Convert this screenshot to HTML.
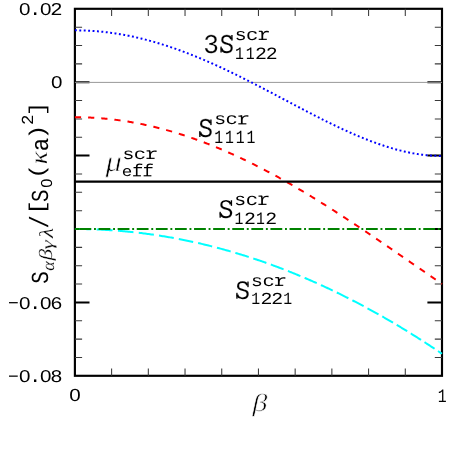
<!DOCTYPE html>
<html><head><meta charset="utf-8"><title>chart</title>
<style>html,body{margin:0;padding:0;background:#fff;}svg{display:block;}</style>
</head><body>
<svg width="458" height="451" viewBox="0 0 458 451">
<rect width="458" height="451" fill="#fff"/>
<rect x="74.9" y="8.8" width="367.10" height="367.00" fill="none" stroke="#000" stroke-width="2.15"/>
<path d="M111.61,8.8 v7.2 M111.61,375.8 v-7.2 M148.32,8.8 v7.2 M148.32,375.8 v-7.2 M185.03,8.8 v7.2 M185.03,375.8 v-7.2 M221.74,8.8 v7.2 M221.74,375.8 v-7.2 M258.45,8.8 v7.2 M258.45,375.8 v-7.2 M295.16,8.8 v7.2 M295.16,375.8 v-7.2 M331.87,8.8 v7.2 M331.87,375.8 v-7.2 M368.58,8.8 v7.2 M368.58,375.8 v-7.2 M405.29,8.8 v7.2 M405.29,375.8 v-7.2 M74.9,27.15 h7.2 M442.0,27.15 h-7.2 M74.9,45.50 h7.2 M442.0,45.50 h-7.2 M74.9,63.85 h7.2 M442.0,63.85 h-7.2 M74.9,100.55 h7.2 M442.0,100.55 h-7.2 M74.9,118.90 h7.2 M442.0,118.90 h-7.2 M74.9,137.25 h7.2 M442.0,137.25 h-7.2 M74.9,173.95 h7.2 M442.0,173.95 h-7.2 M74.9,192.30 h7.2 M442.0,192.30 h-7.2 M74.9,210.65 h7.2 M442.0,210.65 h-7.2 M74.9,247.35 h7.2 M442.0,247.35 h-7.2 M74.9,265.70 h7.2 M442.0,265.70 h-7.2 M74.9,284.05 h7.2 M442.0,284.05 h-7.2 M74.9,320.75 h7.2 M442.0,320.75 h-7.2 M74.9,339.10 h7.2 M442.0,339.10 h-7.2 M74.9,357.45 h7.2 M442.0,357.45 h-7.2" fill="none" stroke="#3a3a3a" stroke-width="1.05"/>
<path d="M74.9,82.20 h14.6 M442.0,82.20 h-14.6 M74.9,155.60 h14.6 M442.0,155.60 h-14.6 M74.9,229.00 h14.6 M442.0,229.00 h-14.6 M74.9,302.40 h14.6 M442.0,302.40 h-14.6" fill="none" stroke="#000" stroke-width="2"/>
<line x1="74.9" y1="82.40" x2="442.0" y2="82.40" stroke="#929292" stroke-width="0.95"/>
<path d="M74.90,229.00 L76.25,229.00 L77.61,229.01 L78.96,229.02 L80.31,229.03 L81.67,229.04 L83.02,229.06 L84.37,229.08 L85.73,229.11 L87.08,229.14 L88.43,229.17 L89.79,229.21 L91.14,229.24 M96.70,229.44 L98.02,229.49 L99.34,229.55 L100.66,229.61 L101.98,229.68 L103.30,229.75 L104.63,229.82 L105.95,229.89 L107.27,229.97 L108.59,230.05 L109.91,230.13 L111.23,230.22 L112.55,230.31 M117.98,230.72 L119.27,230.82 L120.56,230.93 L121.85,231.04 L123.13,231.15 L124.42,231.27 L125.71,231.39 L127.00,231.51 L128.29,231.64 L129.58,231.77 L130.87,231.90 L132.16,232.04 L133.45,232.17 M138.74,232.77 L140.00,232.92 L141.26,233.08 L142.52,233.23 L143.78,233.39 L145.04,233.55 L146.30,233.72 L147.55,233.89 L148.81,234.06 L150.07,234.23 L151.33,234.41 L152.59,234.59 L153.85,234.77 M159.01,235.55 L160.24,235.74 L161.47,235.94 L162.70,236.14 L163.93,236.34 L165.16,236.54 L166.38,236.75 L167.61,236.96 L168.84,237.17 L170.07,237.39 L171.30,237.60 L172.52,237.82 L173.75,238.05 M178.80,239.00 L180.00,239.23 L181.20,239.46 L182.39,239.70 L183.59,239.94 L184.79,240.18 L185.99,240.43 L187.19,240.67 L188.39,240.93 L189.59,241.18 L190.79,241.43 L191.98,241.69 L193.18,241.95 M198.11,243.06 L199.28,243.32 L200.45,243.59 L201.62,243.87 L202.79,244.14 L203.96,244.42 L205.13,244.70 L206.30,244.99 L207.47,245.27 L208.64,245.56 L209.81,245.85 L210.98,246.15 L212.15,246.44 M216.95,247.68 L218.10,247.99 L219.24,248.29 L220.38,248.60 L221.52,248.91 L222.66,249.22 L223.81,249.53 L224.95,249.85 L226.09,250.17 L227.23,250.49 L228.37,250.81 L229.52,251.14 L230.66,251.46 M235.35,252.84 L236.46,253.17 L237.58,253.50 L238.69,253.84 L239.81,254.18 L240.92,254.52 L242.04,254.87 L243.15,255.21 L244.27,255.56 L245.38,255.91 L246.49,256.26 L247.61,256.62 L248.72,256.98 M253.30,258.47 L254.39,258.83 L255.48,259.19 L256.57,259.56 L257.65,259.93 L258.74,260.29 L259.83,260.67 L260.92,261.04 L262.01,261.42 L263.09,261.79 L264.18,262.17 L265.27,262.56 L266.36,262.94 M270.83,264.54 L271.89,264.93 L272.95,265.32 L274.01,265.71 L275.07,266.10 L276.13,266.50 L277.20,266.89 L278.26,267.29 L279.32,267.69 L280.38,268.10 L281.44,268.50 L282.51,268.91 L283.57,269.32 M287.93,271.02 L288.97,271.43 L290.00,271.84 L291.04,272.26 L292.07,272.67 L293.11,273.09 L294.15,273.51 L295.18,273.93 L296.22,274.35 L297.26,274.78 L298.29,275.21 L299.33,275.64 L300.37,276.07 M304.62,277.86 L305.63,278.29 L306.65,278.73 L307.66,279.16 L308.67,279.60 L309.68,280.04 L310.69,280.48 L311.70,280.92 L312.71,281.37 L313.73,281.81 L314.74,282.26 L315.75,282.71 L316.76,283.16 M320.92,285.04 L321.90,285.49 L322.89,285.94 L323.88,286.40 L324.86,286.85 L325.85,287.31 L326.84,287.77 L327.83,288.23 L328.81,288.70 L329.80,289.16 L330.79,289.63 L331.78,290.10 L332.76,290.57 M336.82,292.52 L337.78,292.99 L338.75,293.46 L339.71,293.93 L340.67,294.40 L341.64,294.88 L342.60,295.35 L343.56,295.83 L344.53,296.31 L345.49,296.80 L346.45,297.28 L347.42,297.76 L348.38,298.25 M352.34,300.27 L353.28,300.76 L354.22,301.24 L355.16,301.73 L356.10,302.22 L357.04,302.71 L357.98,303.20 L358.92,303.69 L359.86,304.19 L360.80,304.69 L361.74,305.19 L362.69,305.69 L363.63,306.19 M367.49,308.27 L368.41,308.77 L369.32,309.26 L370.24,309.77 L371.16,310.27 L372.08,310.77 L373.00,311.28 L373.91,311.79 L374.83,312.30 L375.75,312.81 L376.67,313.32 L377.59,313.83 L378.50,314.35 M382.28,316.48 L383.17,316.99 L384.07,317.50 L384.96,318.02 L385.86,318.53 L386.75,319.05 L387.65,319.57 L388.55,320.09 L389.44,320.61 L390.34,321.13 L391.23,321.66 L392.13,322.18 L393.03,322.71 M396.71,324.89 L397.58,325.41 L398.46,325.93 L399.33,326.46 L400.20,326.98 L401.08,327.51 L401.95,328.04 L402.83,328.57 L403.70,329.10 L404.58,329.64 L405.45,330.17 L406.33,330.71 L407.20,331.24 M410.79,333.47 L411.65,334.00 L412.50,334.53 L413.35,335.07 L414.21,335.60 L415.06,336.14 L415.91,336.68 L416.77,337.22 L417.62,337.76 L418.47,338.30 L419.33,338.84 L420.18,339.39 L421.03,339.93 M424.54,342.19 L425.37,342.73 L426.21,343.27 L427.04,343.82 L427.87,344.36 L428.71,344.91 L429.54,345.45 L430.37,346.00 L431.21,346.55 L432.04,347.10 L432.87,347.65 L433.70,348.20 L434.54,348.76 M437.96,351.05 L438.30,351.27 L438.63,351.50 L438.97,351.73 L439.31,351.96 L439.64,352.18 L439.98,352.41 L440.32,352.64 L440.65,352.87 L440.99,353.09 L441.33,353.32 L441.66,353.55 L442.00,353.78" fill="none" stroke="#00ffff" stroke-width="2.0"/>
<path d="M74.90,30.34 L75.82,30.34 L76.74,30.35 L77.65,30.36 L78.57,30.37 L79.49,30.38 L80.41,30.40 L81.32,30.42 L82.24,30.45 L83.16,30.47 L84.08,30.50 L85.00,30.54 L85.91,30.57 L86.83,30.61 L87.75,30.66 L88.67,30.70 L89.58,30.75 L90.50,30.80 L91.42,30.86 L92.34,30.92 L93.26,30.98 L94.17,31.05 L95.09,31.12 L96.01,31.19 L96.93,31.26 L97.84,31.34 L98.76,31.42 L99.68,31.50 L100.60,31.59 L101.51,31.68 L102.43,31.78 L103.35,31.87 L104.27,31.97 L105.19,32.08 L106.10,32.18 L107.02,32.29 L107.94,32.40 L108.86,32.52 L109.77,32.64 L110.69,32.76 L111.61,32.89 L112.53,33.01 L113.45,33.15 L114.36,33.28 L115.28,33.42 L116.20,33.56 L117.12,33.70 L118.03,33.85 L118.95,34.00 L119.87,34.15 L120.79,34.31 L121.71,34.46 L122.62,34.63 L123.54,34.79 L124.46,34.96 L125.38,35.13 L126.29,35.30 L127.21,35.48 L128.13,35.66 L129.05,35.84 L129.97,36.03 L130.88,36.22 L131.80,36.41 L132.72,36.60 L133.64,36.80 L134.55,37.00 L135.47,37.20 L136.39,37.41 L137.31,37.62 L138.22,37.83 L139.14,38.05 L140.06,38.27 L140.98,38.49 L141.90,38.71 L142.81,38.94 L143.73,39.17 L144.65,39.40 L145.57,39.63 L146.48,39.87 L147.40,40.11 L148.32,40.36 L149.24,40.60 L150.16,40.85 L151.07,41.10 L151.99,41.36 L152.91,41.62 L153.83,41.88 L154.74,42.14 L155.66,42.41 L156.58,42.67 L157.50,42.95 L158.42,43.22 L159.33,43.50 L160.25,43.78 L161.17,44.06 L162.09,44.34 L163.00,44.63 L163.92,44.92 L164.84,45.21 L165.76,45.51 L166.68,45.80 L167.59,46.10 L168.51,46.41 L169.43,46.71 L170.35,47.02 L171.26,47.33 L172.18,47.64 L173.10,47.96 L174.02,48.28 L174.93,48.60 L175.85,48.92 L176.77,49.25 L177.69,49.57 L178.61,49.90 L179.52,50.24 L180.44,50.57 L181.36,50.91 L182.28,51.25 L183.19,51.59 L184.11,51.93 L185.03,52.28 L185.95,52.63 L186.87,52.98 L187.78,53.33 L188.70,53.69 L189.62,54.05 L190.54,54.41 L191.45,54.77 L192.37,55.14 L193.29,55.50 L194.21,55.87 L195.13,56.24 L196.04,56.62 L196.96,56.99 L197.88,57.37 L198.80,57.75 L199.71,58.13 L200.63,58.51 L201.55,58.90 L202.47,59.29 L203.39,59.68 L204.30,60.07 L205.22,60.46 L206.14,60.86 L207.06,61.26 L207.97,61.66 L208.89,62.06 L209.81,62.46 L210.73,62.87 L211.64,63.27 L212.56,63.68 L213.48,64.09 L214.40,64.50 L215.32,64.92 L216.23,65.33 L217.15,65.75 L218.07,66.17 L218.99,66.59 L219.90,67.02 L220.82,67.44 L221.74,67.87 L222.66,68.29 L223.58,68.72 L224.49,69.15 L225.41,69.59 L226.33,70.02 L227.25,70.46 L228.16,70.89 L229.08,71.33 L230.00,71.77 L230.92,72.21 L231.84,72.65 L232.75,73.10 L233.67,73.54 L234.59,73.99 L235.51,74.44 L236.42,74.89 L237.34,75.34 L238.26,75.79 L239.18,76.25 L240.10,76.70 L241.01,77.16 L241.93,77.61 L242.85,78.07 L243.77,78.53 L244.68,78.99 L245.60,79.45 L246.52,79.91 L247.44,80.38 L248.35,80.84 L249.27,81.31 L250.19,81.77 L251.11,82.24 L252.03,82.71 L252.94,83.18 L253.86,83.65 L254.78,84.12 L255.70,84.59 L256.61,85.06 L257.53,85.54 L258.45,86.01 L259.37,86.49 L260.29,86.96 L261.20,87.44 L262.12,87.92 L263.04,88.39 L263.96,88.87 L264.87,89.35 L265.79,89.83 L266.71,90.31 L267.63,90.79 L268.55,91.27 L269.46,91.75 L270.38,92.23 L271.30,92.72 L272.22,93.20 L273.13,93.68 L274.05,94.16 L274.97,94.65 L275.89,95.13 L276.81,95.62 L277.72,96.10 L278.64,96.58 L279.56,97.07 L280.48,97.55 L281.39,98.04 L282.31,98.52 L283.23,99.01 L284.15,99.49 L285.06,99.98 L285.98,100.46 L286.90,100.95 L287.82,101.43 L288.74,101.92 L289.65,102.40 L290.57,102.89 L291.49,103.37 L292.41,103.86 L293.32,104.34 L294.24,104.83 L295.16,105.31 L296.08,105.79 L297.00,106.27 L297.91,106.76 L298.83,107.24 L299.75,107.72 L300.67,108.20 L301.58,108.68 L302.50,109.16 L303.42,109.64 L304.34,110.12 L305.26,110.60 L306.17,111.08 L307.09,111.55 L308.01,112.03 L308.93,112.50 L309.84,112.98 L310.76,113.45 L311.68,113.92 L312.60,114.40 L313.51,114.87 L314.43,115.34 L315.35,115.81 L316.27,116.28 L317.19,116.74 L318.10,117.21 L319.02,117.67 L319.94,118.14 L320.86,118.60 L321.77,119.06 L322.69,119.52 L323.61,119.98 L324.53,120.44 L325.45,120.90 L326.36,121.35 L327.28,121.81 L328.20,122.26 L329.12,122.71 L330.03,123.16 L330.95,123.61 L331.87,124.05 L332.79,124.50 L333.71,124.94 L334.62,125.38 L335.54,125.82 L336.46,126.26 L337.38,126.70 L338.29,127.13 L339.21,127.57 L340.13,128.00 L341.05,128.43 L341.97,128.85 L342.88,129.28 L343.80,129.70 L344.72,130.12 L345.64,130.54 L346.55,130.96 L347.47,131.38 L348.39,131.79 L349.31,132.20 L350.23,132.61 L351.14,133.01 L352.06,133.42 L352.98,133.82 L353.90,134.22 L354.81,134.62 L355.73,135.01 L356.65,135.40 L357.57,135.79 L358.48,136.18 L359.40,136.56 L360.32,136.95 L361.24,137.32 L362.16,137.70 L363.07,138.07 L363.99,138.45 L364.91,138.81 L365.83,139.18 L366.74,139.54 L367.66,139.90 L368.58,140.26 L369.50,140.61 L370.42,140.96 L371.33,141.31 L372.25,141.65 L373.17,142.00 L374.09,142.33 L375.00,142.67 L375.92,143.00 L376.84,143.33 L377.76,143.66 L378.68,143.98 L379.59,144.30 L380.51,144.61 L381.43,144.92 L382.35,145.23 L383.26,145.54 L384.18,145.84 L385.10,146.13 L386.02,146.43 L386.94,146.72 L387.85,147.00 L388.77,147.29 L389.69,147.57 L390.61,147.84 L391.52,148.11 L392.44,148.38 L393.36,148.64 L394.28,148.90 L395.19,149.16 L396.11,149.41 L397.03,149.66 L397.95,149.90 L398.87,150.14 L399.78,150.37 L400.70,150.60 L401.62,150.83 L402.54,151.05 L403.45,151.27 L404.37,151.48 L405.29,151.69 L406.21,151.89 L407.13,152.09 L408.04,152.29 L408.96,152.48 L409.88,152.66 L410.80,152.84 L411.71,153.02 L412.63,153.19 L413.55,153.36 L414.47,153.52 L415.39,153.68 L416.30,153.83 L417.22,153.98 L418.14,154.12 L419.06,154.26 L419.97,154.39 L420.89,154.52 L421.81,154.64 L422.73,154.75 L423.64,154.87 L424.56,154.97 L425.48,155.07 L426.40,155.17 L427.32,155.26 L428.23,155.35 L429.15,155.43 L430.07,155.50 L430.99,155.57 L431.90,155.63 L432.82,155.69 L433.74,155.74 L434.66,155.79 L435.58,155.83 L436.49,155.87 L437.41,155.90 L438.33,155.92 L439.25,155.94 L440.16,155.96 L441.08,155.96 L442.00,155.97" fill="none" stroke="#0000ff" stroke-width="2.0" stroke-dasharray="1.9 2.52"/>
<path d="M74.90,117.25 L75.82,117.25 L76.74,117.25 L77.65,117.26 L78.57,117.27 L79.49,117.28 L80.41,117.30 L81.32,117.31 L82.24,117.33 L83.16,117.35 L84.08,117.38 L85.00,117.41 L85.91,117.44 L86.83,117.47 L87.75,117.50 L88.67,117.54 L89.58,117.58 L90.50,117.62 L91.42,117.67 L92.34,117.72 L93.26,117.77 L94.17,117.82 L95.09,117.88 L96.01,117.94 L96.93,118.00 L97.84,118.06 L98.76,118.13 L99.68,118.20 L100.60,118.27 L101.51,118.34 L102.43,118.42 L103.35,118.50 L104.27,118.58 L105.19,118.67 L106.10,118.75 L107.02,118.84 L107.94,118.93 L108.86,119.03 L109.77,119.13 L110.69,119.23 L111.61,119.33 L112.53,119.43 L113.45,119.54 L114.36,119.65 L115.28,119.76 L116.20,119.88 L117.12,120.00 L118.03,120.12 L118.95,120.24 L119.87,120.37 L120.79,120.50 L121.71,120.63 L122.62,120.76 L123.54,120.90 L124.46,121.03 L125.38,121.17 L126.29,121.32 L127.21,121.46 L128.13,121.61 L129.05,121.76 L129.97,121.92 L130.88,122.07 L131.80,122.23 L132.72,122.39 L133.64,122.56 L134.55,122.72 L135.47,122.89 L136.39,123.06 L137.31,123.24 L138.22,123.41 L139.14,123.59 L140.06,123.77 L140.98,123.96 L141.90,124.14 L142.81,124.33 L143.73,124.53 L144.65,124.72 L145.57,124.92 L146.48,125.11 L147.40,125.32 L148.32,125.52 L149.24,125.73 L150.16,125.93 L151.07,126.15 L151.99,126.36 L152.91,126.58 L153.83,126.79 L154.74,127.02 L155.66,127.24 L156.58,127.47 L157.50,127.69 L158.42,127.93 L159.33,128.16 L160.25,128.39 L161.17,128.63 L162.09,128.87 L163.00,129.12 L163.92,129.36 L164.84,129.61 L165.76,129.86 L166.68,130.11 L167.59,130.37 L168.51,130.63 L169.43,130.89 L170.35,131.15 L171.26,131.41 L172.18,131.68 L173.10,131.95 L174.02,132.22 L174.93,132.50 L175.85,132.77 L176.77,133.05 L177.69,133.33 L178.61,133.62 L179.52,133.90 L180.44,134.19 L181.36,134.48 L182.28,134.78 L183.19,135.07 L184.11,135.37 L185.03,135.67 L185.95,135.97 L186.87,136.28 L187.78,136.59 L188.70,136.89 L189.62,137.21 L190.54,137.52 L191.45,137.84 L192.37,138.16 L193.29,138.48 L194.21,138.80 L195.13,139.13 L196.04,139.45 L196.96,139.78 L197.88,140.12 L198.80,140.45 L199.71,140.79 L200.63,141.13 L201.55,141.47 L202.47,141.81 L203.39,142.16 L204.30,142.50 L205.22,142.85 L206.14,143.21 L207.06,143.56 L207.97,143.92 L208.89,144.28 L209.81,144.64 L210.73,145.00 L211.64,145.37 L212.56,145.74 L213.48,146.11 L214.40,146.48 L215.32,146.85 L216.23,147.23 L217.15,147.61 L218.07,147.99 L218.99,148.37 L219.90,148.75 L220.82,149.14 L221.74,149.53 L222.66,149.92 L223.58,150.31 L224.49,150.71 L225.41,151.11 L226.33,151.51 L227.25,151.91 L228.16,152.31 L229.08,152.72 L230.00,153.13 L230.92,153.54 L231.84,153.95 L232.75,154.36 L233.67,154.78 L234.59,155.20 L235.51,155.62 L236.42,156.04 L237.34,156.46 L238.26,156.89 L239.18,157.32 L240.10,157.75 L241.01,158.18 L241.93,158.61 L242.85,159.05 L243.77,159.48 L244.68,159.92 L245.60,160.37 L246.52,160.81 L247.44,161.25 L248.35,161.70 L249.27,162.15 L250.19,162.60 L251.11,163.06 L252.03,163.51 L252.94,163.97 L253.86,164.43 L254.78,164.89 L255.70,165.35 L256.61,165.81 L257.53,166.28 L258.45,166.75 L259.37,167.22 L260.29,167.69 L261.20,168.16 L262.12,168.64 L263.04,169.11 L263.96,169.59 L264.87,170.07 L265.79,170.56 L266.71,171.04 L267.63,171.53 L268.55,172.01 L269.46,172.50 L270.38,172.99 L271.30,173.49 L272.22,173.98 L273.13,174.48 L274.05,174.97 L274.97,175.47 L275.89,175.98 L276.81,176.48 L277.72,176.98 L278.64,177.49 L279.56,178.00 L280.48,178.51 L281.39,179.02 L282.31,179.53 L283.23,180.04 L284.15,180.56 L285.06,181.08 L285.98,181.60 L286.90,182.12 L287.82,182.64 L288.74,183.16 L289.65,183.69 L290.57,184.21 L291.49,184.74 L292.41,185.27 L293.32,185.80 L294.24,186.34 L295.16,186.87 L296.08,187.41 L297.00,187.94 L297.91,188.48 L298.83,189.02 L299.75,189.56 L300.67,190.11 L301.58,190.65 L302.50,191.20 L303.42,191.74 L304.34,192.29 L305.26,192.84 L306.17,193.39 L307.09,193.95 L308.01,194.50 L308.93,195.06 L309.84,195.61 L310.76,196.17 L311.68,196.73 L312.60,197.29 L313.51,197.85 L314.43,198.42 L315.35,198.98 L316.27,199.55 L317.19,200.11 L318.10,200.68 L319.02,201.25 L319.94,201.82 L320.86,202.39 L321.77,202.97 L322.69,203.54 L323.61,204.12 L324.53,204.69 L325.45,205.27 L326.36,205.85 L327.28,206.43 L328.20,207.01 L329.12,207.59 L330.03,208.18 L330.95,208.76 L331.87,209.35 L332.79,209.93 L333.71,210.52 L334.62,211.11 L335.54,211.70 L336.46,212.29 L337.38,212.88 L338.29,213.47 L339.21,214.07 L340.13,214.66 L341.05,215.26 L341.97,215.86 L342.88,216.45 L343.80,217.05 L344.72,217.65 L345.64,218.25 L346.55,218.85 L347.47,219.46 L348.39,220.06 L349.31,220.66 L350.23,221.27 L351.14,221.87 L352.06,222.48 L352.98,223.09 L353.90,223.69 L354.81,224.30 L355.73,224.91 L356.65,225.52 L357.57,226.13 L358.48,226.75 L359.40,227.36 L360.32,227.97 L361.24,228.59 L362.16,229.20 L363.07,229.82 L363.99,230.43 L364.91,231.05 L365.83,231.67 L366.74,232.29 L367.66,232.90 L368.58,233.52 L369.50,234.14 L370.42,234.76 L371.33,235.38 L372.25,236.01 L373.17,236.63 L374.09,237.25 L375.00,237.87 L375.92,238.50 L376.84,239.12 L377.76,239.75 L378.68,240.37 L379.59,241.00 L380.51,241.62 L381.43,242.25 L382.35,242.88 L383.26,243.51 L384.18,244.13 L385.10,244.76 L386.02,245.39 L386.94,246.02 L387.85,246.65 L388.77,247.28 L389.69,247.91 L390.61,248.54 L391.52,249.17 L392.44,249.80 L393.36,250.43 L394.28,251.06 L395.19,251.69 L396.11,252.32 L397.03,252.95 L397.95,253.59 L398.87,254.22 L399.78,254.85 L400.70,255.48 L401.62,256.12 L402.54,256.75 L403.45,257.38 L404.37,258.01 L405.29,258.65 L406.21,259.28 L407.13,259.91 L408.04,260.55 L408.96,261.18 L409.88,261.81 L410.80,262.45 L411.71,263.08 L412.63,263.71 L413.55,264.35 L414.47,264.98 L415.39,265.61 L416.30,266.25 L417.22,266.88 L418.14,267.51 L419.06,268.14 L419.97,268.78 L420.89,269.41 L421.81,270.04 L422.73,270.67 L423.64,271.30 L424.56,271.93 L425.48,272.57 L426.40,273.20 L427.32,273.83 L428.23,274.46 L429.15,275.09 L430.07,275.72 L430.99,276.35 L431.90,276.97 L432.82,277.60 L433.74,278.23 L434.66,278.86 L435.58,279.49 L436.49,280.11 L437.41,280.74 L438.33,281.37 L439.25,281.99 L440.16,282.62 L441.08,283.24 L442.00,283.87" fill="none" stroke="#ff0000" stroke-width="2.0" stroke-dasharray="6.2 7.0"/>
<line x1="74.9" y1="181.58" x2="442.0" y2="181.58" stroke="#000" stroke-width="2.1"/>
<path d="M74.9,229.00 H79.6" fill="none" stroke="#008200" stroke-width="2.05"/>
<path d="M79.45,229.00 H442.0" fill="none" stroke="#008200" stroke-width="2.05" stroke-dasharray="11.8 2.75 1.9 2.65"/>
<g opacity="0.999" style="text-rendering:geometricPrecision">
<text transform="matrix(1.0300,0,0,0.8651,18.895,14.731)" font-family="Liberation Sans" font-style="normal" font-size="20.0" fill="#000" >0</text>
<text transform="matrix(1.0300,0,0,0.9024,29.023,14.724)" font-family="Liberation Mono" font-style="normal" font-size="20.0" fill="#000">.</text>
<text transform="matrix(1.0300,0,0,0.8651,40.035,14.731)" font-family="Liberation Sans" font-style="normal" font-size="20.0" fill="#000" >0</text>
<text transform="matrix(1.0300,0,0,0.9024,50.163,14.724)" font-family="Liberation Mono" font-style="normal" font-size="20.0" fill="#000">2</text>
<text transform="matrix(1.0300,0,0,0.8580,51.095,87.832)" font-family="Liberation Sans" font-style="normal" font-size="20.0" fill="#000" >0</text>
<text transform="matrix(1.0300,0,0,0.8616,18.895,308.632)" font-family="Liberation Sans" font-style="normal" font-size="20.0" fill="#000" >0</text>
<text transform="matrix(1.0300,0,0,0.8988,29.023,308.624)" font-family="Liberation Mono" font-style="normal" font-size="20.0" fill="#000">.</text>
<text transform="matrix(1.0300,0,0,0.8616,40.035,308.632)" font-family="Liberation Sans" font-style="normal" font-size="20.0" fill="#000" >0</text>
<text transform="matrix(1.0300,0,0,0.8988,50.163,308.624)" font-family="Liberation Mono" font-style="normal" font-size="20.0" fill="#000">6</text>
<rect x="9.0" y="302.07" width="8.75" height="1.25" fill="#000"/>
<text transform="matrix(1.0300,0,0,0.8616,18.895,382.282)" font-family="Liberation Sans" font-style="normal" font-size="20.0" fill="#000" >0</text>
<text transform="matrix(1.0300,0,0,0.8988,29.023,382.274)" font-family="Liberation Mono" font-style="normal" font-size="20.0" fill="#000">.</text>
<text transform="matrix(1.0300,0,0,0.8616,40.035,382.282)" font-family="Liberation Sans" font-style="normal" font-size="20.0" fill="#000" >0</text>
<text transform="matrix(1.0300,0,0,0.8988,50.163,382.274)" font-family="Liberation Mono" font-style="normal" font-size="20.0" fill="#000">8</text>
<rect x="9.0" y="375.52" width="8.75" height="1.25" fill="#000"/>
<text transform="matrix(1.0300,0,0,0.8792,69.295,401.378)" font-family="Liberation Sans" font-style="normal" font-size="20.0" fill="#000" >0</text>
<text transform="matrix(0.7404,0,0,0.9451,437.830,401.550)" font-family="Liberation Mono" font-style="normal" font-size="20.0" fill="#000" >1</text>
<text transform="matrix(1.4921,0,0,1.2323,252.481,411.353)" font-family="Liberation Serif" font-style="italic" font-size="20.0" fill="#000"  stroke="#fff" stroke-width="0.45" vector-effect="non-scaling-stroke">β</text>
<text transform="matrix(1.3077,0,0,1.3555,203.315,52.685)" font-family="Liberation Mono" font-style="normal" font-size="20.0" fill="#000"  stroke="#fff" stroke-width="0.1" vector-effect="non-scaling-stroke">3</text>
<text transform="matrix(1.2104,0,0,1.3555,219.416,52.685)" font-family="Liberation Mono" font-style="normal" font-size="20.0" fill="#000"  stroke="#fff" stroke-width="0.1" vector-effect="non-scaling-stroke">S</text>
<rect x="231.25" y="35.00" width="1.35" height="5.6" fill="#000"/>
<rect x="220.40" y="46.60" width="1.35" height="5.9" fill="#000"/>
<text transform="matrix(0.9862,0,0,0.8510,234.642,39.734)" font-family="Liberation Mono" font-style="normal" font-size="20.0" fill="#000" >s</text>
<text transform="matrix(1.0294,0,0,0.8488,245.943,39.734)" font-family="Liberation Mono" font-style="normal" font-size="20.0" fill="#000" >c</text>
<text transform="matrix(1.0150,0,0,0.8502,258.494,39.750)" font-family="Liberation Mono" font-style="normal" font-size="20.0" fill="#000" >r</text>
<rect x="258.70" y="38.75" width="8.10" height="1.15" fill="#000"/>
<rect x="258.80" y="30.75" width="3.30" height="1.15" fill="#000"/>
<text transform="matrix(0.7404,0,0,0.8805,234.980,58.750)" font-family="Liberation Mono" font-style="normal" font-size="20.0" fill="#000" >1</text>
<text transform="matrix(0.7404,0,0,0.8805,245.710,58.750)" font-family="Liberation Mono" font-style="normal" font-size="20.0" fill="#000" >1</text>
<text transform="matrix(0.9913,0,0,0.8670,255.116,58.750)" font-family="Liberation Mono" font-style="normal" font-size="20.0" fill="#000" >2</text>
<text transform="matrix(0.9913,0,0,0.8670,265.846,58.750)" font-family="Liberation Mono" font-style="normal" font-size="20.0" fill="#000" >2</text>
<text transform="matrix(1.2300,0,0,1.3555,198.201,137.185)" font-family="Liberation Mono" font-style="normal" font-size="20.0" fill="#000"  stroke="#fff" stroke-width="0.1" vector-effect="non-scaling-stroke">S</text>
<rect x="210.25" y="119.50" width="1.35" height="5.6" fill="#000"/>
<rect x="199.20" y="131.10" width="1.35" height="5.9" fill="#000"/>
<text transform="matrix(0.9862,0,0,0.8236,214.242,124.239)" font-family="Liberation Mono" font-style="normal" font-size="20.0" fill="#000" >s</text>
<text transform="matrix(1.0294,0,0,0.8214,225.543,124.240)" font-family="Liberation Mono" font-style="normal" font-size="20.0" fill="#000" >c</text>
<text transform="matrix(1.0150,0,0,0.8224,238.094,124.250)" font-family="Liberation Mono" font-style="normal" font-size="20.0" fill="#000" >r</text>
<rect x="238.30" y="123.25" width="8.10" height="1.15" fill="#000"/>
<rect x="238.40" y="115.55" width="3.30" height="1.15" fill="#000"/>
<text transform="matrix(0.7404,0,0,0.9329,214.330,143.200)" font-family="Liberation Mono" font-style="normal" font-size="20.0" fill="#000" >1</text>
<text transform="matrix(0.7404,0,0,0.9329,225.060,143.200)" font-family="Liberation Mono" font-style="normal" font-size="20.0" fill="#000" >1</text>
<text transform="matrix(0.7404,0,0,0.9329,235.790,143.200)" font-family="Liberation Mono" font-style="normal" font-size="20.0" fill="#000" >1</text>
<text transform="matrix(0.7404,0,0,0.9329,246.520,143.200)" font-family="Liberation Mono" font-style="normal" font-size="20.0" fill="#000" >1</text>
<text transform="matrix(1.2495,0,0,1.3518,218.486,217.886)" font-family="Liberation Mono" font-style="normal" font-size="20.0" fill="#000"  stroke="#fff" stroke-width="0.1" vector-effect="non-scaling-stroke">S</text>
<rect x="230.75" y="200.25" width="1.35" height="5.6" fill="#000"/>
<rect x="219.50" y="211.80" width="1.35" height="5.9" fill="#000"/>
<text transform="matrix(0.9862,0,0,0.8693,234.342,204.730)" font-family="Liberation Mono" font-style="normal" font-size="20.0" fill="#000" >s</text>
<text transform="matrix(1.0294,0,0,0.8670,245.643,204.731)" font-family="Liberation Mono" font-style="normal" font-size="20.0" fill="#000" >c</text>
<text transform="matrix(1.0150,0,0,0.8688,258.194,204.750)" font-family="Liberation Mono" font-style="normal" font-size="20.0" fill="#000" >r</text>
<rect x="258.40" y="203.75" width="8.10" height="1.15" fill="#000"/>
<rect x="258.50" y="195.55" width="3.30" height="1.15" fill="#000"/>
<text transform="matrix(0.7404,0,0,0.8805,234.480,223.750)" font-family="Liberation Mono" font-style="normal" font-size="20.0" fill="#000" >1</text>
<text transform="matrix(0.9913,0,0,0.8670,243.886,223.750)" font-family="Liberation Mono" font-style="normal" font-size="20.0" fill="#000" >2</text>
<text transform="matrix(0.7404,0,0,0.8805,255.940,223.750)" font-family="Liberation Mono" font-style="normal" font-size="20.0" fill="#000" >1</text>
<text transform="matrix(0.9913,0,0,0.8670,265.346,223.750)" font-family="Liberation Mono" font-style="normal" font-size="20.0" fill="#000" >2</text>
<text transform="matrix(1.2300,0,0,1.3290,235.261,298.890)" font-family="Liberation Mono" font-style="normal" font-size="20.0" fill="#000"  stroke="#fff" stroke-width="0.1" vector-effect="non-scaling-stroke">S</text>
<rect x="247.31" y="281.56" width="1.35" height="5.6" fill="#000"/>
<rect x="236.26" y="292.80" width="1.35" height="5.9" fill="#000"/>
<text transform="matrix(0.9862,0,0,0.8218,251.092,285.739)" font-family="Liberation Mono" font-style="normal" font-size="20.0" fill="#000" >s</text>
<text transform="matrix(1.0294,0,0,0.8196,262.393,285.740)" font-family="Liberation Mono" font-style="normal" font-size="20.0" fill="#000" >c</text>
<text transform="matrix(1.0150,0,0,0.8205,274.944,285.750)" font-family="Liberation Mono" font-style="normal" font-size="20.0" fill="#000" >r</text>
<rect x="275.15" y="284.75" width="8.10" height="1.15" fill="#000"/>
<rect x="275.25" y="277.07" width="3.30" height="1.15" fill="#000"/>
<text transform="matrix(0.7404,0,0,0.8540,251.130,304.400)" font-family="Liberation Mono" font-style="normal" font-size="20.0" fill="#000" >1</text>
<text transform="matrix(0.9913,0,0,0.8409,260.536,304.400)" font-family="Liberation Mono" font-style="normal" font-size="20.0" fill="#000" >2</text>
<text transform="matrix(0.9913,0,0,0.8409,271.266,304.400)" font-family="Liberation Mono" font-style="normal" font-size="20.0" fill="#000" >2</text>
<text transform="matrix(0.7404,0,0,0.8540,283.320,304.400)" font-family="Liberation Mono" font-style="normal" font-size="20.0" fill="#000" >1</text>
<text transform="matrix(1.6393,0,0,1.4342,105.432,170.565)" font-family="Liberation Serif" font-style="italic" font-size="20.0" fill="#000"  stroke="#fff" stroke-width="0.45" vector-effect="non-scaling-stroke">μ</text>
<text transform="matrix(0.9862,0,0,0.7980,122.442,158.744)" font-family="Liberation Mono" font-style="normal" font-size="20.0" fill="#000" >s</text>
<text transform="matrix(1.0294,0,0,0.7958,133.743,158.745)" font-family="Liberation Mono" font-style="normal" font-size="20.0" fill="#000" >c</text>
<text transform="matrix(1.0150,0,0,0.7963,146.294,158.750)" font-family="Liberation Mono" font-style="normal" font-size="20.0" fill="#000" >r</text>
<rect x="146.50" y="157.75" width="8.10" height="1.15" fill="#000"/>
<rect x="146.60" y="150.33" width="3.30" height="1.15" fill="#000"/>
<text transform="matrix(0.8791,0,0,0.7347,121.708,176.407)" font-family="Liberation Mono" font-style="normal" font-size="20.0" fill="#000" >e</text>
<text transform="matrix(0.9350,0,0,0.8556,132.326,176.350)" font-family="Liberation Mono" font-style="normal" font-size="20.0" fill="#000" >f</text>
<rect x="133.10" y="175.20" width="7.80" height="1.15" fill="#000"/>
<text transform="matrix(0.9350,0,0,0.8556,142.826,176.350)" font-family="Liberation Mono" font-style="normal" font-size="20.0" fill="#000" >f</text>
<rect x="143.60" y="175.20" width="7.80" height="1.15" fill="#000"/>
<text transform="translate(47.561,283.706) rotate(-90) scale(1.0445,1.2229)" font-family="Liberation Mono" font-style="normal" font-size="20.0" fill="#000" >S</text>
<text transform="translate(53.619,270.841) rotate(-90) scale(0.9087,0.8819)" font-family="Liberation Serif" font-style="italic" font-size="20.0" fill="#000"  stroke="#fff" stroke-width="0.22" vector-effect="non-scaling-stroke">α</text>
<text transform="translate(52.207,260.623) rotate(-90) scale(1.1703,0.9378)" font-family="Liberation Serif" font-style="italic" font-size="20.0" fill="#000"  stroke="#fff" stroke-width="0.22" vector-effect="non-scaling-stroke">β</text>
<text transform="translate(52.651,249.422) rotate(-90) scale(1.1685,0.8335)" font-family="Liberation Serif" font-style="italic" font-size="20.0" fill="#000"  stroke="#fff" stroke-width="0.22" vector-effect="non-scaling-stroke">γ</text>
<text transform="translate(52.900,238.036) rotate(-90) scale(1.1558,0.9942)" font-family="Liberation Serif" font-style="italic" font-size="20.0" fill="#000"  stroke="#fff" stroke-width="0.22" vector-effect="non-scaling-stroke">λ</text>
<text transform="translate(48.043,228.521) rotate(-90) scale(1.0968,1.3140)" font-family="Liberation Mono" font-style="normal" font-size="20.0" fill="#000" >/</text>
<text transform="translate(44.470,215.022) rotate(-90) scale(1.2543,1.0674)" font-family="Liberation Mono" font-style="normal" font-size="20.0" fill="#000" >[</text>
<text transform="translate(47.561,201.998) rotate(-90) scale(1.0347,1.2229)" font-family="Liberation Mono" font-style="normal" font-size="20.0" fill="#000" >S</text>
<text transform="translate(52.444,187.846) rotate(-90) scale(0.8263,0.7980)" font-family="Liberation Sans" font-style="normal" font-size="20.0" fill="#000" >0</text>
<text transform="translate(44.470,178.711) rotate(-90) scale(1.2310,1.0674)" font-family="Liberation Mono" font-style="normal" font-size="20.0" fill="#000" >(</text>
<text transform="translate(46.900,164.268) rotate(-90) scale(1.3213,1.2310)" font-family="Liberation Serif" font-style="italic" font-size="20.0" fill="#000"  stroke="#fff" stroke-width="0.22" vector-effect="non-scaling-stroke">κ</text>
<text transform="translate(48.063,151.302) rotate(-90) scale(1.1212,1.2138)" font-family="Liberation Mono" font-style="normal" font-size="20.0" fill="#000" >a</text>
<text transform="translate(44.470,139.401) rotate(-90) scale(1.2497,1.0674)" font-family="Liberation Mono" font-style="normal" font-size="20.0" fill="#000" >)</text>
<text transform="translate(32.700,124.926) rotate(-90) scale(0.8715,0.8446)" font-family="Liberation Mono" font-style="normal" font-size="20.0" fill="#000" >2</text>
<text transform="translate(44.470,116.258) rotate(-90) scale(1.2355,1.0674)" font-family="Liberation Mono" font-style="normal" font-size="20.0" fill="#000" >]</text>
</g>
</svg>
</body></html>
